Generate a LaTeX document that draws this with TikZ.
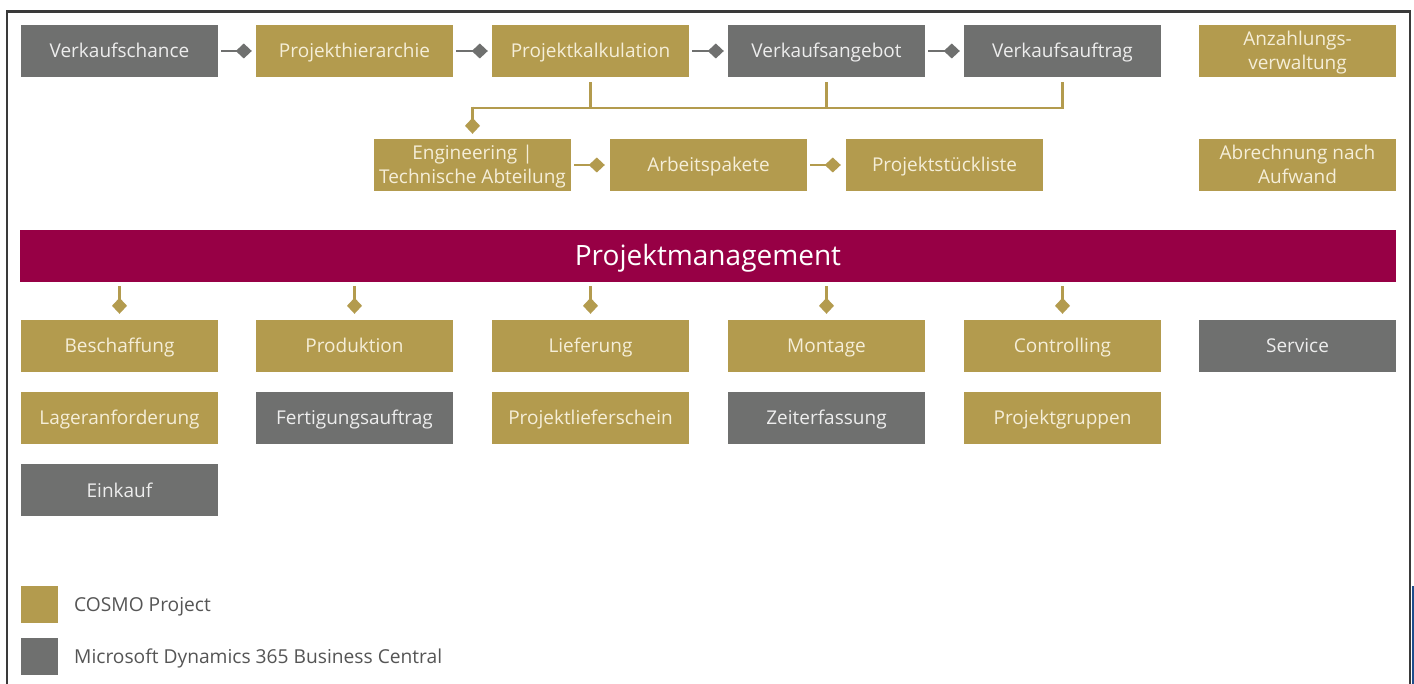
\documentclass[tikz,border=0pt]{standalone}
\usepackage{fontspec}
\setmainfont{Open Sans}
\usetikzlibrary{arrows.meta}
\definecolor{gold}{HTML}{B39B4E}
\definecolor{msgray}{HTML}{6F706F}
\definecolor{band}{HTML}{970045}
\definecolor{frame}{HTML}{3A3A3A}
\definecolor{goldtxt}{HTML}{F5EED8}
\definecolor{graytxt}{HTML}{EDEDED}
\definecolor{legtxt}{HTML}{555555}
\definecolor{edgeblue}{HTML}{1F4E8C}
\tikzset{
  box/.style={minimum width=197pt, minimum height=52pt, inner sep=0pt, align=center,
    font=\fontsize{19}{24}\selectfont, text height=14pt, text depth=0pt},
  two/.style={text height=38pt, text depth=0pt},
  cosmo/.style={box, fill=gold, text=goldtxt},
  bc/.style={box, fill=msgray, text=graytxt},
  gconn/.style={draw=msgray, line width=2.5pt, -{Diamond[length=16pt,width=15pt]}, shorten <=3pt, shorten >=4pt},
  yconn/.style={draw=gold, line width=2.5pt, -{Diamond[length=16pt,width=15pt]}, shorten >=5pt},
  yline/.style={draw=gold, line width=2.5pt},
  legbox/.style={minimum width=37pt, minimum height=37pt, inner sep=0pt},
  legtext/.style={anchor=west, inner sep=0pt, text=legtxt, font=\fontsize{19.2}{23}\selectfont,
    text height=14pt, text depth=0pt}
}
\begin{document}
\begin{tikzpicture}[x=1pt,y=-1pt]
\useasboundingbox (0,0) rectangle (1414,684);
\fill[white] (0,0) rectangle (1414,684);
% frame
\draw[frame, line width=2.5pt] (7,690) -- (7,11.5) -- (1410,11.5) -- (1410,690);
\fill[edgeblue] (1411.5,586) rectangle (1414,684);
% row 1
\node[bc] (vchance) at (119.5,51) {Verkaufschance};
\node[cosmo] (hier) at (354.5,51) {Projekthierarchie};
\node[cosmo] (kalk) at (590.5,51) {Projektkalkulation};
\node[bc] (angebot) at (826.5,51) {Verkaufsangebot};
\node[bc] (auftrag) at (1062.5,51) {Verkaufsauftrag};
\node[cosmo, two] (anz) at (1297.5,51) {Anzahlungs-\\verwaltung};
% row 2
\node[cosmo, two] (eng) at (472.5,165) {Engineering |\\Technische Abteilung};
\node[cosmo] (arb) at (708.5,165) {Arbeitspakete};
\node[cosmo] (stk) at (944.5,165) {Projektstückliste};
\node[cosmo, two] (abr) at (1297.5,165) {Abrechnung nach\\Aufwand};
% band
\node[fill=band, text=white, minimum width=1376pt, minimum height=52pt, inner sep=0pt,
  font=\fontsize{28}{30}\selectfont, text height=20pt, text depth=0pt] (pm) at (708,256) {Projektmanagement};
% row 3
\node[cosmo] (besch) at (119.5,346) {Beschaffung};
\node[cosmo] (prod) at (354.5,346) {Produktion};
\node[cosmo] (lief) at (590.5,346) {Lieferung};
\node[cosmo] (mont) at (826.5,346) {Montage};
\node[cosmo] (ctrl) at (1062.5,346) {Controlling};
\node[bc] (serv) at (1297.5,346) {Service};
% row 4
\node[cosmo] (lager) at (119.5,418) {Lageranforderung};
\node[bc] (fert) at (354.5,418) {Fertigungsauftrag};
\node[cosmo] (pls) at (590.5,418) {Projektlieferschein};
\node[bc] (zeit) at (826.5,418) {Zeiterfassung};
\node[cosmo] (grp) at (1062.5,418) {Projektgruppen};
% row 5
\node[bc] (eink) at (119.5,490) {Einkauf};
% top connectors
\draw[gconn] (vchance.east) -- (hier.west);
\draw[gconn] (hier.east) -- (kalk.west);
\draw[gconn] (kalk.east) -- (angebot.west);
\draw[gconn] (angebot.east) -- (auftrag.west);
% bracket
\coordinate (bar) at (0,108);
\draw[yline] ([yshift=-5pt]kalk.south) -- (kalk.south |- bar);
\draw[yline] ([yshift=-5pt]angebot.south) -- (angebot.south |- bar);
\draw[yline] ([yshift=-5pt]auftrag.south) |- (eng.north |- bar);
\coordinate (engtop) at (eng.north |- bar);
\draw[yconn] ([yshift=1.25pt]engtop) -- (eng.north);
% row 2 connectors
\draw[yconn, shorten <=3pt] (eng.east) -- (arb.west);
\draw[yconn, shorten <=3pt] (arb.east) -- (stk.west);
% band connectors
\foreach \n in {besch,prod,lief,mont,ctrl}{
  \draw[yconn, shorten >=6pt] ([yshift=-4pt]pm.south -| \n.north) -- (\n.north);
}
% legend
\node[legbox, fill=gold] (lg1) at (39.5,604) {};
\node[legbox, fill=msgray] (lg2) at (39.5,656.5) {};
\node[legtext] (lt1) at (74,604) {COSMO Project};
\node[legtext] (lt2) at (74,656.5) {Microsoft Dynamics 365 Business Central};
\end{tikzpicture}
\end{document}
